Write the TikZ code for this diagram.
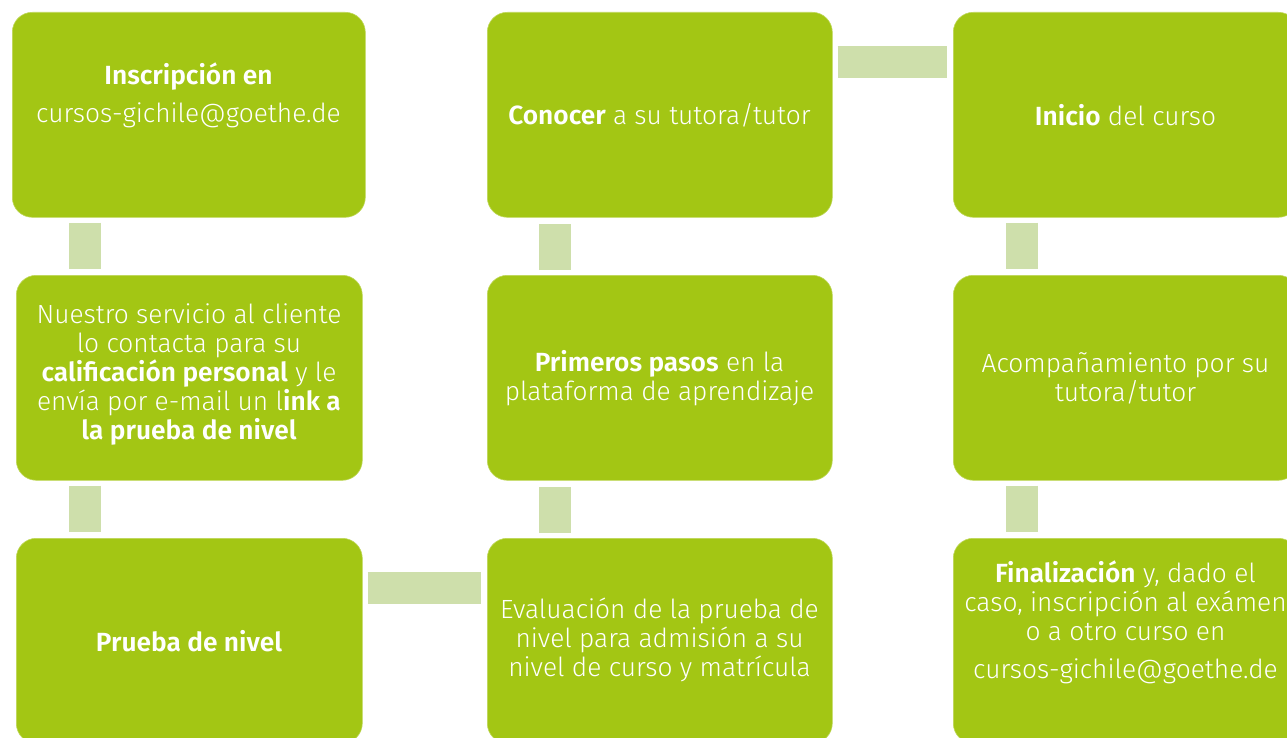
\documentclass[tikz,border=0pt]{standalone}
\usepackage{fontspec}
\setmainfont{Fira Sans Light}[BoldFont={Fira Sans SemiBold}]
\usetikzlibrary{positioning}
\definecolor{gg}{RGB}{163,198,20}
\definecolor{bar}{RGB}{206,223,171}
\tikzset{
  box/.style={fill=gg, draw=gg!70!white, line width=0.6pt, rounded corners=20pt, anchor=north west, inner sep=0pt},
  txt/.style={text=white, align=center, font=\fontsize{26.3}{29}\selectfont, inner sep=0pt},
  vbar/.style={draw=bar, line width=32pt, shorten <=5pt, shorten >=6pt},
  hbar/.style={draw=bar, line width=32pt, shorten <=5pt, shorten >=6pt},
}
\begin{document}
\begin{tikzpicture}[x=1pt,y=-1pt]
\useasboundingbox (0,0) rectangle (1287,738);
\clip (0,0) rectangle (1287,738);
% boxes
\node[box, minimum width=353pt, minimum height=205pt] (b1) at (12,12) {};
\node[box, minimum width=346pt, minimum height=205pt] (b2) at (16,275) {};
\node[box, minimum width=346pt, minimum height=205pt] (b3) at (16,538) {};
\node[box, minimum width=345pt, minimum height=205pt] (m1) at (487,12) {};
\node[box, minimum width=345pt, minimum height=205pt] (m2) at (487,275) {};
\node[box, minimum width=345pt, minimum height=205pt] (m3) at (487,538) {};
\node[box, minimum width=345pt, minimum height=205pt] (r1) at (953,12) {};
\node[box, minimum width=345pt, minimum height=205pt] (r2) at (953,275) {};
\node[box, minimum width=345pt, minimum height=205pt] (r3) at (953,538) {};
% connectors
\draw[vbar] ([xshift=73pt]b1.south west) -- ([xshift=73pt]b1.south west |- b2.north);
\draw[vbar] ([xshift=69pt]b2.north west |- b2.south) -- ([xshift=69pt]b2.south west |- b3.north);
\draw[hbar] ([yshift=-49.5pt]b3.north east) -- ([yshift=-49.5pt]b3.north east -| m3.west);
\draw[vbar] ([xshift=68pt]m3.north west) -- ([xshift=68pt]m2.south west);
\draw[vbar] ([xshift=68pt]m2.north west) -- ([xshift=68pt]m1.south west);
\draw[hbar] ([yshift=-50pt]m1.north east) -- ([yshift=-50pt]m1.north east -| r1.west);
\draw[vbar] ([xshift=69pt]r1.south west) -- ([xshift=69pt]r2.north west);
\draw[vbar] ([xshift=69pt]r2.south west) -- ([xshift=69pt]r3.north west);
% texts
\node[txt] (tb1) at (188.5,95.5) {\textbf{Inscripción en}\\[9pt]cursos-gichile@goethe.de};
\node[txt] (tb2) at (189,374.5) {Nuestro servicio al cliente\\lo contacta para su\\\textbf{calificación personal} y le\\envía por e-mail un l\textbf{ink a}\\\textbf{la prueba de nivel}};
\node[txt] (tb3) at (189,641) {\textbf{Prueba de nivel}};
\node[txt] (tm1) at (659.5,115) {\textbf{Conocer} a su tutora/tutor};
\node[txt] (tm2) at (659.5,378) {\textbf{Primeros pasos} en la\\plataforma de aprendizaje};
\node[txt] (tm3) at (659.5,640) {Evaluación de la prueba de\\nivel para admisión a su\\nivel de curso y matrícula};
\node[txt] (tr1) at (1125.5,115) {\textbf{Inicio} del curso};
\node[txt] (tr2) at (1125.5,378) {Acompañamiento por su\\tutora/tutor};
\node[txt] (tr3) at (1125.5,622) {\textbf{Finalización} y, dado el\\caso, inscripción al exámen\\o a otro curso en\\[9pt]cursos-gichile@goethe.de};
\end{tikzpicture}
\end{document}
